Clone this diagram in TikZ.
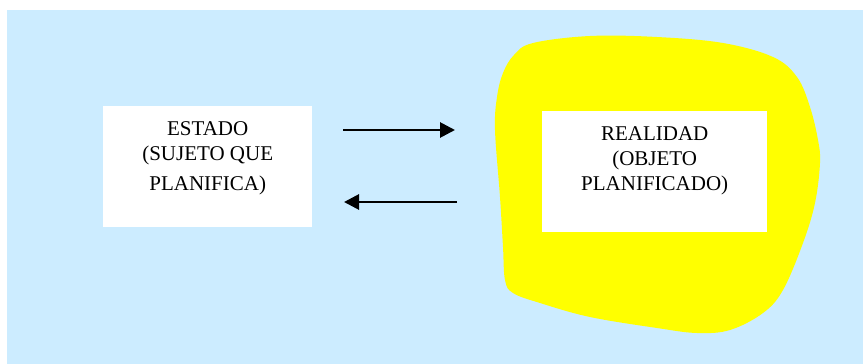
\documentclass[tikz,border=0pt]{standalone}
\usepackage{fontspec}
\setmainfont{Liberation Serif}
\usetikzlibrary{arrows.meta}
\definecolor{bgblue}{HTML}{CCECFF}
\definecolor{blobyellow}{HTML}{FFFF00}
\tikzset{
  whitebox/.style={fill=white, draw=none, anchor=north west, inner sep=0pt},
  boxtext/.style={anchor=north, align=center, inner sep=0pt, font=\fontsize{21}{25}\selectfont},
  flow/.style={line width=2.8pt, -{Triangle[length=15pt,width=15pt]}}
}
\begin{document}
\begin{tikzpicture}[x=1pt,y=-1pt]
\useasboundingbox (0,0) rectangle (863,364);
\fill[bgblue] (7,10) rectangle (863,364);
\fill[blobyellow] plot[smooth cycle, tension=0.6] coordinates {
 (533,43) (590,36) (657,37) (723,43) (773,57) (797,77) (810,107) (818,140)
 (820,163) (815,203) (803,243) (783,290) (763,313) (730,330) (697,333)
 (657,328) (590,317) (540,303) (513,293) (505,280) (503,247) (500,197)
 (495,130) (497,97) (503,73) (514,55)};
\node[whitebox, minimum width=209pt, minimum height=121pt] (estado) at (103,106) {};
\node[whitebox, minimum width=225pt, minimum height=121pt] (realidad) at (542,111) {};
\node[boxtext] (estadotxt) at ([yshift=-15pt]estado.north) {ESTADO\\(SUJETO QUE\\[5pt]PLANIFICA)};
\node[boxtext] (realidadtxt) at ([yshift=-15pt]realidad.north) {REALIDAD\\(OBJETO\\PLANIFICADO)};
\coordinate (a1s) at (343,130);
\coordinate (a1e) at (455,130);
\coordinate (a2s) at (457,202);
\coordinate (a2e) at (344,202);
\draw[flow] (a1s) -- (a1e);
\draw[flow] (a2s) -- (a2e);
\end{tikzpicture}
\end{document}
